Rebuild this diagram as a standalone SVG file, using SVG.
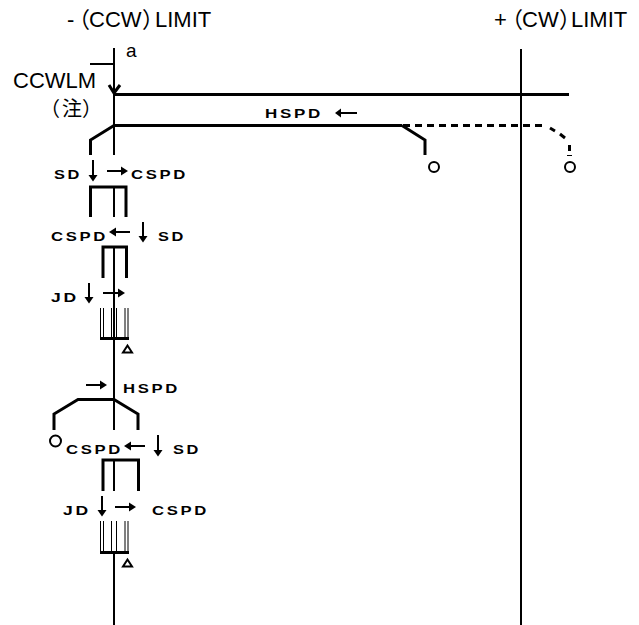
<svg xmlns="http://www.w3.org/2000/svg" width="639" height="625" viewBox="0 0 639 625">
<style>
.l{fill:none;stroke:#000;stroke-width:2;stroke-linejoin:miter}
.h{fill:none;stroke:#000;stroke-width:3}
.t{fill:none;stroke:#000;stroke-width:1}
.a{fill:none;stroke:#000;stroke-width:2}
text{font-family:"Liberation Sans",Arial,"Noto Sans CJK JP",sans-serif;fill:#000}
.b{font-size:12.500px;font-weight:bold;letter-spacing:2px}
.n{font-size:22px}
</style>
<rect width="639" height="625" fill="#fff"/>
<g id="labels">
<text class="n" y="26.500"><tspan x="67">-</tspan><tspan x="68">（</tspan><tspan x="89">CCW</tspan><tspan x="142">）</tspan><tspan x="155">LIMIT</tspan></text>
<text class="n" y="26.500"><tspan x="494">+</tspan><tspan x="501">（</tspan><tspan x="522">CW</tspan><tspan x="559">）</tspan><tspan x="571">LIMIT</tspan></text>
<text x="126" y="57" font-size="19">a</text>
<text class="n" x="13" y="88">CCWLM</text>
<text font-size="20" y="116"><tspan x="40">（</tspan><tspan x="62">注</tspan><tspan x="82">）</tspan></text>
<text class="b" x="265" y="118" textLength="58" lengthAdjust="spacingAndGlyphs">HSPD</text>
<text class="b" x="54" y="179" textLength="28" lengthAdjust="spacingAndGlyphs">SD</text>
<text class="b" x="131" y="179" textLength="57" lengthAdjust="spacingAndGlyphs">CSPD</text>
<text class="b" x="51" y="240.500" textLength="57" lengthAdjust="spacingAndGlyphs">CSPD</text>
<text class="b" x="158" y="240.500" textLength="28" lengthAdjust="spacingAndGlyphs">SD</text>
<text class="b" x="51" y="301.500" textLength="28" lengthAdjust="spacingAndGlyphs">JD</text>
<text class="b" x="123" y="392.500" textLength="57" lengthAdjust="spacingAndGlyphs">HSPD</text>
<text class="b" x="66" y="454" textLength="57" lengthAdjust="spacingAndGlyphs">CSPD</text>
<text class="b" x="173" y="454" textLength="28" lengthAdjust="spacingAndGlyphs">SD</text>
<text class="b" x="63" y="514.500" textLength="28" lengthAdjust="spacingAndGlyphs">JD</text>
<text class="b" x="152" y="514.500" textLength="57" lengthAdjust="spacingAndGlyphs">CSPD</text>
</g>
<g id="connectors">
<path class="l" d="M114 48V155M114 187V217M114 247V430M114 460V491M114 552V625M521 49V625"/>
<path class="h" d="M114 94.500H569M114 125.500H402"/>
<path class="l" d="M90 64H114V90"/>
<path class="h" d="M109 85L114 93L120 85"/>
<path class="h" d="M90.500 155V140L114 125.500"/>
<path class="h" d="M402 125.500L425 140V155"/>
<path class="h" d="M403 125.500H546" stroke-dasharray="7 5"/>
<path class="h" d="M550 128L555 131M560 134L565 138"/>
<path class="h" d="M569.500 145V151"/>
<path class="t" d="M567 155.500H572"/>
<path class="h" d="M90.500 217V187H126V217"/>
<path class="h" d="M103 278V247H126.500V278"/>
<path class="h" d="M103 491V460H138.500V491"/>
<path class="h" d="M54 430V414L78 399.500H114L138 414V430"/>
<path class="t" d="M100.500 308V338M103.500 308V338M111.500 308V338M116.500 308V338M125 308V338M128 308V338"/>
<path class="h" d="M100 338.500H129"/>
<path class="t" d="M100.500 521V552M103.500 521V552M111.500 521V552M116.500 521V552M125 521V552M128 521V552"/>
<path class="h" d="M100 552.500H129"/>
</g>
<g id="arrows">
<path class="a" d="M357 113H337"/><path d="M335 113L341 108.500V117.500Z"/>
<path class="a" d="M93 160V178"/><path d="M93 181.500L88.500 175H97.500Z"/>
<path class="a" d="M107 171H125"/><path d="M128 171L121 166.500V175.500Z"/>
<path class="a" d="M130 232H112"/><path d="M109 232L116 227.500V236.500Z"/>
<path class="a" d="M143 222V239"/><path d="M143 242.500L138.500 236H147.500Z"/>
<path class="a" d="M89 283V300"/><path d="M89 303.500L84.500 297H93.500Z"/>
<path class="a" d="M103 293H122"/><path d="M125 293L118 288.500V297.500Z"/>
<path class="a" d="M86 385H104"/><path d="M107 385L100 380.500V389.500Z"/>
<path class="a" d="M145 446H127"/><path d="M124 446L131 441.500V450.500Z"/>
<path class="a" d="M158 435V453"/><path d="M158 456.500L153.500 450H162.500Z"/>
<path class="a" d="M102 496V513"/><path d="M102 516.500L97.500 510H106.500Z"/>
<path class="a" d="M115 507H133"/><path d="M136 507L129 502.500V511.500Z"/>
</g>
<g id="markers">
<circle class="l" cx="434" cy="167" r="5"/>
<circle class="l" cx="570" cy="167" r="5"/>
<circle class="l" cx="55.500" cy="441" r="5.500"/>
<path class="l" d="M127.500 345.500L123 352.500H132Z"/>
<path class="l" d="M127.500 559.500L123 566.500H132Z"/>
</g>
</svg>
